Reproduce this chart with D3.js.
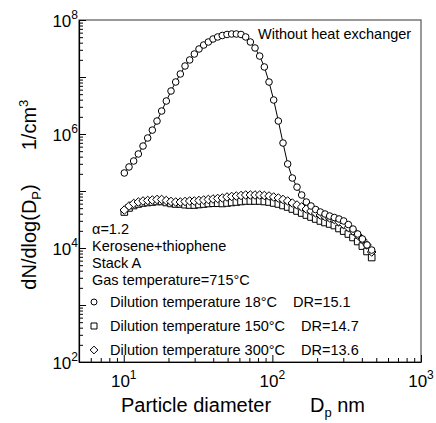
<!DOCTYPE html>
<html>
<head>
<meta charset="utf-8">
<script src="https://cdn.jsdelivr.net/npm/d3@7"></script>
<style>
  html, body { margin: 0; padding: 0; background: #fff; }
  svg { display: block; font-family: "Liberation Sans", Arial, sans-serif; }
</style>
</head>
<body>
<svg id="chart" width="436" height="423"></svg>
<script>
// ---- data ----
const diameters = [10.09,10.85,11.66,12.54,13.48,14.49,15.57,16.74,17.99,19.34,
  20.80,22.36,24.03,25.84,27.77,29.85,32.09,34.50,37.09,39.87,
  42.85,46.07,49.53,53.24,57.23,61.52,66.14,71.10,76.42,82.16,
  88.31,94.93,102.05,109.70,117.93,126.77,136.27,146.49,157.47,169.28,
  181.97,195.61,210.28,226.05,242.99,261.22,280.80,301.85,324.49,348.82,
  374.97,403.08,433.31,465.80];

const dil18 = [2.07e5,2.64e5,3.36e5,4.46e5,6.15e5,8.51e5,1.17e6,1.69e6,2.53e6,3.79e6,
  5.68e6,8.17e6,1.13e7,1.56e7,1.99e7,2.53e7,3.10e7,3.64e7,4.11e7,4.64e7,
  5.04e7,5.35e7,5.57e7,5.68e7,5.68e7,5.57e7,5.04e7,4.11e7,3.23e7,2.33e7,
  1.50e7,8.17e6,3.95e6,1.69e6,6.95e5,2.98e5,1.69e5,1.17e5,8.51e4,6.41e4,
  5.46e4,4.73e4,4.28e4,3.95e4,3.64e4,3.43e4,3.23e4,2.98e4,2.58e4,2.15e4,
  1.76e4,1.44e4,1.13e4,9.2e3];

const dil150 = [4.28e4,5.04e4,5.57e4,5.92e4,6.17e4,6.29e4,6.41e4,6.55e4,6.55e4,6.29e4,
  6.05e4,5.92e4,5.92e4,5.75e4,5.68e4,5.68e4,5.80e4,5.91e4,6.04e4,6.10e4,
  6.10e4,6.04e4,6.16e4,6.29e4,6.41e4,6.55e4,6.68e4,6.68e4,6.68e4,6.68e4,
  6.55e4,6.41e4,6.16e4,5.92e4,5.57e4,5.24e4,4.83e4,4.46e4,4.11e4,3.79e4,
  3.50e4,3.23e4,2.98e4,2.80e4,2.64e4,2.48e4,2.20e4,1.98e4,1.76e4,1.53e4,
  1.30e4,1.08e4,8.69e3,6.81e3];

const dil300 = [4.64e4,5.46e4,6.04e4,6.41e4,6.68e4,6.81e4,6.95e4,7.10e4,7.10e4,6.81e4,
  6.55e4,6.41e4,6.41e4,6.55e4,6.68e4,6.68e4,6.81e4,6.95e4,7.10e4,7.24e4,
  7.39e4,7.54e4,7.85e4,8.01e4,8.17e4,8.34e4,8.51e4,8.51e4,8.51e4,8.51e4,
  8.34e4,8.17e4,7.85e4,7.54e4,7.10e4,6.68e4,6.15e4,5.68e4,5.24e4,4.83e4,
  4.46e4,4.11e4,3.79e4,3.57e4,3.36e4,3.16e4,2.86e4,2.58e4,2.29e4,1.99e4,
  1.69e4,1.41e4,1.13e4,8.51e3];

const xTickExps = [1, 2, 3];
const yTickExps = [2, 4, 6, 8];
const infoLines = ["α=1.2", "Kerosene+thiophene", "Stack A", "Gas temperature=715°C"];
const legendLabels = ["Dilution temperature 18°C", "Dilution temperature 150°C", "Dilution temperature 300°C"];
const legendDR = ["DR=15.1", "DR=14.7", "DR=13.6"];
const legendShapes = ["circle", "square", "diamond"];
const annotation = "Without heat exchanger";

// ---- layout ----
const svg = d3.select("#chart");
const L = 79, R = 421, T = 20, B = 362;
const x = d3.scaleLog().domain([5, 1000]).range([L, R]);
const y = d3.scaleLog().domain([1e2, 1e8]).range([B, T]);

// frame
svg.append("rect").attr("x", L).attr("y", T).attr("width", R - L).attr("height", B - T)
  .attr("fill", "none").attr("stroke", "#555").attr("stroke-width", 1.2);

// ticks
function minorVals(lo, hi) {
  const out = [];
  for (let e = lo; e < hi; e++) for (let k = 2; k <= 9; k++) out.push(k * Math.pow(10, e));
  return out;
}
const xMajor = [10, 100, 1000];
const xMinor = minorVals(0, 3).filter(v => v >= 5 && v <= 1000);
const yMajor = [1e2,1e3,1e4,1e5,1e6,1e7,1e8];
const yMinor = minorVals(2, 8);

const gx = svg.append("g").attr("transform", `translate(0,${B})`);
gx.call(d3.axisBottom(x).tickValues(xMajor).tickSizeInner(-7).tickSizeOuter(0).tickFormat(""));
const gx2 = svg.append("g").attr("transform", `translate(0,${B})`);
gx2.call(d3.axisBottom(x).tickValues(xMinor).tickSizeInner(-4).tickSizeOuter(0).tickFormat(""));
gx2.select(".domain").remove();

const gy = svg.append("g").attr("transform", `translate(${L},0)`);
gy.call(d3.axisLeft(y).tickValues(yMajor).tickSizeInner(-7).tickSizeOuter(0).tickFormat(""));
const gy2 = svg.append("g").attr("transform", `translate(${L},0)`);
gy2.call(d3.axisLeft(y).tickValues(yMinor).tickSizeInner(-4).tickSizeOuter(0).tickFormat(""));
gy2.select(".domain").remove();
svg.selectAll(".domain").attr("stroke", "#000").attr("stroke-width", 1.2);
svg.selectAll(".tick line").attr("stroke", "#000");

// tick labels
xTickExps.forEach(e => {
  const t = svg.append("text").attr("x", x(Math.pow(10, e))).attr("y", 387)
    .attr("text-anchor", "middle").attr("font-size", 17).attr("fill", "#000");
  t.append("tspan").text("10");
  t.append("tspan").attr("dy", -8).attr("font-size", 12).text(e);
});
yTickExps.forEach(e => {
  const t = svg.append("text").attr("x", 78).attr("y", y(Math.pow(10, e)) + 7)
    .attr("text-anchor", "end").attr("font-size", 17).attr("fill", "#000");
  t.append("tspan").text("10");
  t.append("tspan").attr("dy", -8).attr("font-size", 12).text(e);
});

// axis titles
const xt = svg.append("text").attr("x", 121).attr("y", 412).attr("font-size", 20).attr("fill", "#000");
xt.append("tspan").text("Particle diameter");
const xt2 = svg.append("text").attr("x", 310).attr("y", 412).attr("font-size", 20).attr("fill", "#000");
xt2.append("tspan").text("D");
xt2.append("tspan").attr("dy", 5).attr("font-size", 13).text("p");
xt2.append("tspan").attr("dy", -5).text(" nm");

const yt = svg.append("text").attr("transform", "translate(36,237) rotate(-90)")
  .attr("text-anchor", "middle").attr("font-size", 20).attr("fill", "#000");
yt.append("tspan").text("dN/dlog(D");
yt.append("tspan").attr("dy", 5).attr("font-size", 13).text("P");
yt.append("tspan").attr("dy", -5).text(")");
const yt2 = svg.append("text").attr("transform", "translate(36,125) rotate(-90)")
  .attr("text-anchor", "middle").attr("font-size", 20).attr("fill", "#000");
yt2.append("tspan").text("1/cm");
yt2.append("tspan").attr("dy", -8).attr("font-size", 13).text("3");

// symbols
function symbolPath(shape, s) {
  if (shape === "circle") return d3.symbol().type(d3.symbolCircle).size(Math.PI * s * s)();
  if (shape === "square") return `M${-s},${-s}H${s}V${s}H${-s}Z`;
  const d = s * 1.3;
  return `M0,${-d}L${d},0L0,${d}L${-d},0Z`;
}

const line = d3.line().x((d, i) => x(diameters[i])).y(d => y(d));
const seriesList = [
  { values: dil150, shape: "square" },
  { values: dil300, shape: "diamond" },
  { values: dil18, shape: "circle" }
];
seriesList.forEach(s => {
  svg.append("path").datum(s.values).attr("d", line)
    .attr("fill", "none").attr("stroke", "#000").attr("stroke-width", 1);
});
seriesList.forEach(s => {
  svg.append("g").selectAll("path").data(s.values).join("path")
    .attr("transform", (d, i) => `translate(${x(diameters[i])},${y(d)})`)
    .attr("d", symbolPath(s.shape, s.shape === "circle" ? 3.3 : 3.3))
    .attr("fill", "#fff").attr("stroke", "#000").attr("stroke-width", 1);
});

// annotation
svg.append("text").attr("x", 258).attr("y", 39).attr("font-size", 14.5).attr("fill", "#000").text(annotation);

// info text
infoLines.forEach((t, i) => {
  svg.append("text").attr("x", 92).attr("y", 234 + i * 17).attr("font-size", 14.5)
    .attr("fill", "#000").text(t);
});

// legend
legendLabels.forEach((t, i) => {
  const yy = 302 + i * 24;
  svg.append("path").attr("transform", `translate(94,${yy})`)
    .attr("d", symbolPath(legendShapes[i], 3))
    .attr("fill", "#fff").attr("stroke", "#000").attr("stroke-width", 1);
  const txt = svg.append("text").attr("x", 110).attr("y", yy + 5).attr("font-size", 14.5)
    .attr("fill", "#000").text(t);
  const w = txt.node().getComputedTextLength();
  svg.append("text").attr("x", 110 + w + 16).attr("y", yy + 5).attr("font-size", 14.5)
    .attr("fill", "#000").text(legendDR[i]);
});
</script>
</body>
</html>
